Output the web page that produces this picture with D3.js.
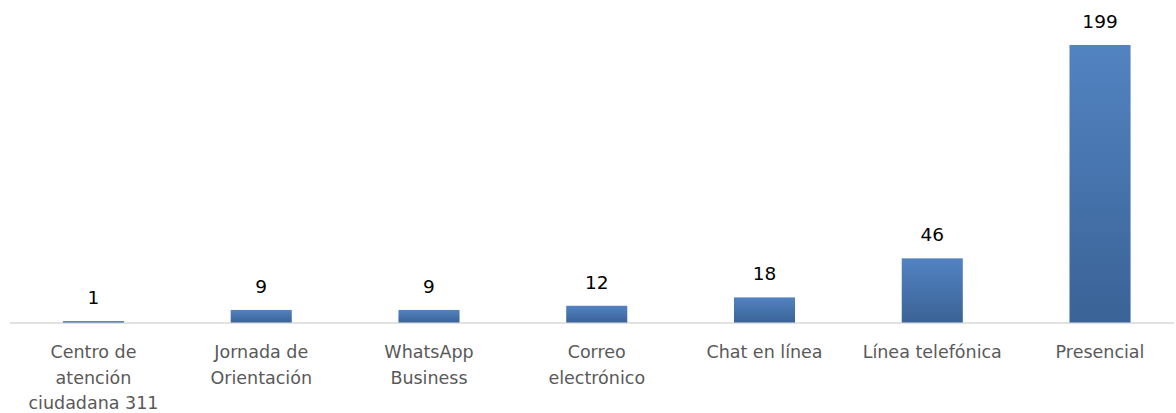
<!DOCTYPE html>
<html><head><meta charset="utf-8">
<script src="https://cdn.jsdelivr.net/npm/d3@7"></script>
<style>body{margin:0;background:#fff}svg{display:block}</style>
</head><body>
<svg id="chart" width="1176" height="413"></svg>
<script>
const categories = [["Centro de","atención","ciudadana 311"],["Jornada de","Orientación"],["WhatsApp","Business"],["Correo","electrónico"],["Chat en línea"],["Línea telefónica"],["Presencial"]];
const values = [1, 9, 9, 12, 18, 46, 199];

const svg = d3.select("#chart");
const font = "'DejaVu Sans', sans-serif";
const x = d3.scaleBand().domain(d3.range(values.length)).range([9.6, 1183.9]).paddingInner(0.636).paddingOuter(0.318);
const y = d3.scaleLinear().domain([0, 199]).range([322.5, 45]);

const defs = svg.append("defs");
const g = defs.append("linearGradient").attr("id","grad").attr("x1",0).attr("y1",0).attr("x2",0).attr("y2",1);
g.append("stop").attr("offset","0%").attr("stop-color","#5283c1");
g.append("stop").attr("offset","100%").attr("stop-color","#3a6397");

svg.append("line").attr("x1",10).attr("x2",1174).attr("y1",323).attr("y2",323)
  .attr("stroke","#d9d9d9").attr("stroke-width",1.5);

svg.selectAll("rect.bar").data(values).join("rect").attr("class","bar")
  .attr("x",(d,i)=>x(i)).attr("width",x.bandwidth())
  .attr("y",d=>y(d)).attr("height",d=>y(0)-y(d))
  .attr("fill","url(#grad)");

svg.selectAll("text.val").data(values).join("text").attr("class","val")
  .attr("x",(d,i)=>x(i)+x.bandwidth()/2).attr("y",d=>y(d)-17)
  .attr("text-anchor","middle").attr("font-family",font).attr("font-size",18.5).attr("fill","#000")
  .text(d=>d);

const lab = svg.selectAll("text.cat").data(categories).join("text").attr("class","cat")
  .attr("text-anchor","middle").attr("font-family",font).attr("font-size",17.5).attr("fill","#595959");
lab.each(function(lines,i){
  d3.select(this).selectAll("tspan").data(lines).join("tspan")
    .attr("x",x(i)+x.bandwidth()/2).attr("y",(l,j)=>358+j*25.5).text(l=>l);
});
</script>
</body></html>
